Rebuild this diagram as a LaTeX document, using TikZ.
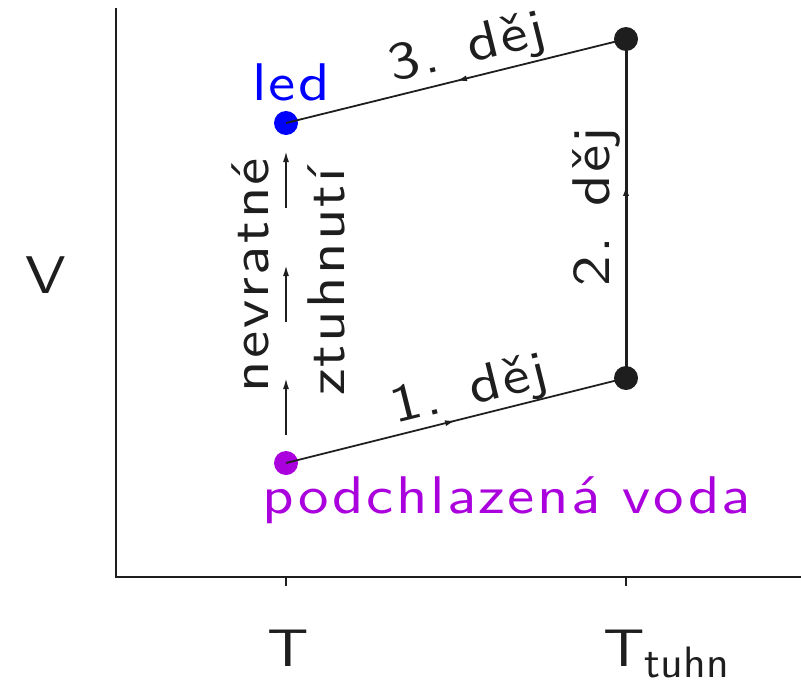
\documentclass[tikz,border=0pt]{standalone}
\usepackage{fontspec}
\setsansfont{lmsans10-regular.otf}[FakeStretch=1.15,LetterSpace=4.5]
\usetikzlibrary{arrows.meta,decorations.markings}
\definecolor{iceblue}{RGB}{0,0,255}
\definecolor{waterpurple}{RGB}{170,0,221}
\definecolor{linegray}{RGB}{30,30,30}
\tikzset{
  font=\fontsize{53}{60}\selectfont\sffamily,
  tip/.tip={Latex[length=11pt,width=6pt]},
  axis/.style={draw=linegray,line width=2.8pt},
  state/.style={circle,fill=#1,inner sep=0pt,minimum size=24pt},
  process/.style={draw=linegray,line width=1.8pt},
  midarrow/.style={decoration={markings,mark=at position #1 with {\arrow{tip}}},postaction={decorate}},
  label/.style={text=linegray,inner sep=0pt}
}

\begin{document}
\begin{tikzpicture}[x=1pt,y=-1pt]
  \useasboundingbox (0,0) rectangle (801,683);

  % axes
  \coordinate (origin) at (116,577);
  \coordinate (ytop) at (116,8);
  \coordinate (xend) at (801,577);
  \draw[axis] (ytop) -- (origin) -- (xend);
  \coordinate (tickT) at (286,577);
  \coordinate (tickTt) at (626,577);
  \draw[axis] (tickT) -- ++(0,9);
  \draw[axis] (tickTt) -- ++(0,9);

  \node[label] at (46,275) (vlab) {V};
  \node[label,anchor=base] at (288,666) (tlab) {T};
  \node[label,anchor=base west] at (603,666) (ttlab) {T\raisebox{-11pt}{\fontsize{44}{50}\selectfont\addfontfeatures{FakeStretch=1,LetterSpace=0}tuhn}};

  % states
  \node[state=iceblue] at (286,123) (led) {};
  \node[state=waterpurple] at (286,463) (voda) {};
  \node[state=linegray] at (626,39) (topR) {};
  \node[state=linegray] at (626,378) (botR) {};

  \node[label,text=iceblue,anchor=base] at (291,100) (ledlab) {led};
  \node[label,text=waterpurple,anchor=base] at (507,513) (vodalab) {podchlazená voda};

  % processes
  \draw[process,midarrow=0.5] (voda.center) -- (botR.center);
  \draw[process,line width=3pt,midarrow=0.57] (botR.center) -- (topR.center);
  \draw[process,midarrow=0.5] (topR.center) -- (led.center);

  \node[label,rotate=14] at (470,392) (d1) {1. děj};
  \node[label,rotate=90] at (596,207) (d2) {2. děj};
  \node[label,rotate=14] at (468,50) (d3) {3. děj};

  % irreversible solidification
  \coordinate (a1s) at (286,435);
  \coordinate (a1e) at (286,378);
  \coordinate (a2s) at (286,322);
  \coordinate (a2e) at (286,265);
  \coordinate (a3s) at (286,208);
  \coordinate (a3e) at (286,151);
  \foreach \s/\e in {a1s/a1e,a2s/a2e,a3s/a3e}
    \draw[process,-tip] (\s) -- (\e);

  \node[label,rotate=90] at (250,275) (nev) {nevratné};
  \node[label,rotate=90] at (326,282) (ztu) {ztuhnutí};

\end{tikzpicture}
\end{document}
